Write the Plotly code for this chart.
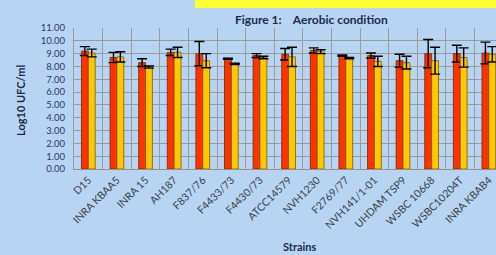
import plotly.graph_objects as go

strains = ["D15", "INRA KBAA5", "INRA 15", "AH187", "F837/76", "F4433/73", "F4430/73",
           "ATCC14579", "NVH1230", "F2769/77", "NVH141/1-01", "UHDAM TSP9", "WSBC 10668",
           "WSBC10204T", "INRA KBAB4"]
red_vals = [9.2, 8.7, 8.3, 9.1, 9.0, 8.6, 8.85, 8.95, 9.25, 8.85, 8.85, 8.45, 9.0, 9.0, 9.05]
red_err = [0.35, 0.4, 0.3, 0.25, 0.95, 0.05, 0.15, 0.45, 0.2, 0.05, 0.2, 0.5, 1.1, 0.65, 0.85]
yel_vals = [9.05, 8.75, 7.95, 9.1, 8.45, 8.2, 8.7, 8.75, 9.15, 8.65, 8.4, 8.3, 8.45, 8.7, 8.95]
yel_err = [0.3, 0.4, 0.08, 0.4, 0.55, 0.05, 0.1, 0.75, 0.15, 0.05, 0.4, 0.5, 1.05, 0.75, 0.6]
y_ticks = [0, 1, 2, 3, 4, 5, 6, 7, 8, 9, 10, 11]

x = list(range(len(strains)))
bg = "#b8d4f3"

fig = go.Figure()
fig.add_trace(go.Bar(
    x=x, y=red_vals, name="red",
    marker=dict(color="#ff3300", line=dict(color="#6b2a00", width=0.8)),
    error_y=dict(type="data", array=red_err, visible=True, color="#000000",
                 thickness=1.4, width=5),
))
fig.add_trace(go.Bar(
    x=x, y=yel_vals, name="yellow",
    marker=dict(color="#ffc800", line=dict(color="#7a5a00", width=0.8)),
    error_y=dict(type="data", array=yel_err, visible=True, color="#000000",
                 thickness=1.4, width=5),
))

fig.update_layout(
    width=496, height=255,
    margin=dict(l=74, r=0, t=28, b=86),
    paper_bgcolor=bg, plot_bgcolor=bg,
    barmode="group", bargap=0.52, bargroupgap=0,
    showlegend=False,
    font=dict(family="Lato, sans-serif", color="#2a3550"),
    xaxis=dict(
        range=[-0.5, 14.25],
        tickmode="array", tickvals=x, ticktext=strains,
        tickangle=-45, tickfont=dict(size=10.5, color="#3a3f4a"),
        showgrid=False, zeroline=False, ticks="", automargin=False,
        showline=True, linecolor="#9a8f80", linewidth=1,
        minor=dict(tickmode="array", tickvals=[i + 0.5 for i in x],
                   showgrid=True, gridcolor="#9c9c9c", gridwidth=1, ticks=""),
        fixedrange=True,
    ),
    yaxis=dict(
        range=[0, 11],
        tickmode="array", tickvals=y_ticks,
        ticktext=[f"{v:.2f}" for v in y_ticks],
        tickfont=dict(size=9.5, color="#2a3a60"),
        showgrid=True, gridcolor="#9c9c9c", gridwidth=1,
        zeroline=False, ticks="", ticklabelstandoff=6, automargin=False,
        showline=True, linecolor="#9a9a9a", linewidth=1,
        fixedrange=True,
    ),
    shapes=[
        dict(type="rect", xref="paper", yref="paper",
             x0=(195 - 74) / 422, x1=1.0, y0=1 + 20 / 141, y1=1 + 28 / 141,
             fillcolor="#ffff33", line=dict(width=0), layer="above"),
    ],
    annotations=[
        dict(text="<b>Figure 1:\u00a0\u00a0\u00a0\u00a0Aerobic condition</b>",
             xref="paper", yref="paper", x=(311 - 74) / 422, y=1 + 9 / 141,
             xanchor="center", yanchor="middle", showarrow=False,
             font=dict(size=12, color="#1c2a4a")),
        dict(text="<b>Log10 UFC/ml</b>", textangle=-90,
             xref="paper", yref="paper", x=(20 - 74) / 422, y=(169 - 100) / 141,
             xanchor="center", yanchor="middle", showarrow=False,
             font=dict(size=11, color="#1c2a4a")),
        dict(text="<b>Strains</b>",
             xref="paper", yref="paper", x=(299 - 74) / 422, y=(169 - 246) / 141,
             xanchor="center", yanchor="middle", showarrow=False,
             font=dict(size=11, color="#1c2a4a")),
    ],
)

fig.write_html(
    "out.html",
    config={"displayModeBar": False},
    post_script="document.body.style.margin='0';document.body.style.padding='0';"
                "document.body.style.overflow='hidden';"
                f"document.body.style.background='{bg}';",
)
